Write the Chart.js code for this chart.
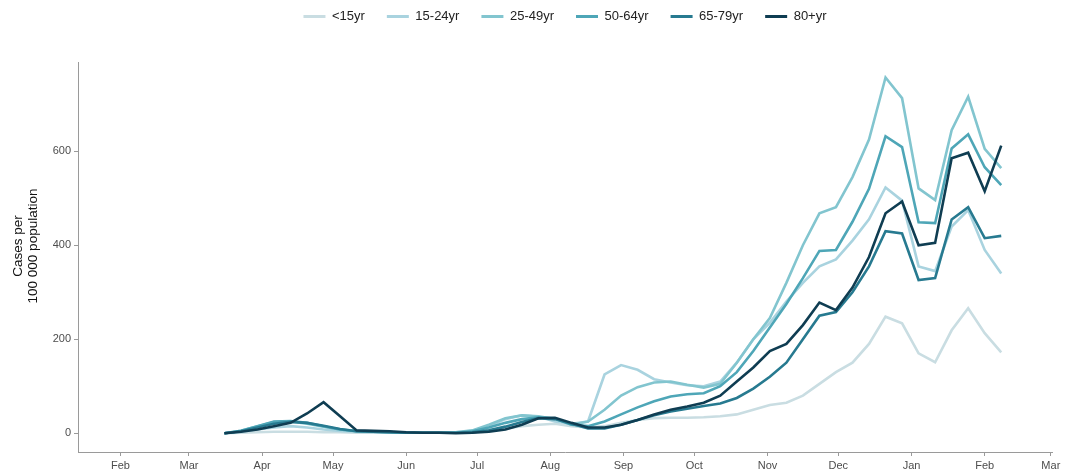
<!DOCTYPE html>
<html>
<head>
<meta charset="utf-8">
<script src="https://cdn.jsdelivr.net/npm/chart.js"></script>
<style>
  html, body { margin: 0; padding: 0; background: #fff; }
  #wrap { width: 1074px; height: 474px; }
</style>
</head>
<body>
<div id="wrap"><canvas id="chart" width="1074" height="474"></canvas></div>
<script>
// weekly reporting dates
const weekDates = [
    '2020-03-16','2020-03-23','2020-03-30','2020-04-06','2020-04-13','2020-04-20','2020-04-27',
    '2020-05-04','2020-05-11','2020-05-18','2020-05-25','2020-06-01','2020-06-08','2020-06-15',
    '2020-06-22','2020-06-29','2020-07-06','2020-07-13','2020-07-20','2020-07-27','2020-08-03',
    '2020-08-10','2020-08-17','2020-08-24','2020-08-31','2020-09-07','2020-09-14','2020-09-21',
    '2020-09-28','2020-10-05','2020-10-12','2020-10-19','2020-10-26','2020-11-02','2020-11-09',
    '2020-11-16','2020-11-23','2020-11-30','2020-12-07','2020-12-14','2020-12-21','2020-12-28',
    '2021-01-04','2021-01-11','2021-01-18','2021-01-25','2021-02-01','2021-02-08'
];

// month ticks on the x axis
const monthTicks = [
    '2020-02-01','2020-03-01','2020-04-01','2020-05-01','2020-06-01','2020-07-01','2020-08-01',
    '2020-09-01','2020-10-01','2020-11-01','2020-12-01','2021-01-01','2021-02-01','2021-03-01'
];
const monthLabels = ['Feb','Mar','Apr','May','Jun','Jul','Aug','Sep','Oct','Nov','Dec','Jan','Feb','Mar'];
const yTicks = [0, 200, 400, 600];
const yTitle = ['Cases per', '100 000 population'];

const ageGroups = ['<15yr', '15-24yr', '25-49yr', '50-64yr', '65-79yr', '80+yr'];

// cases per 100 000 population
const casesU15 = [0,1,2,3,3,3,2,2,1,1,1, 1,1,1,1,2,5,10,15,18, 20,15,12,15,22,28,32,33,33,
    34,36,40,50,60,65,80,105,130, 150,190,248,234,170,151,219,266,213,172];
const cases15 = [0,3,8,12,15,12,8,5,3,2,2, 1,1,1,2,5,15,30,38,35, 25,20,25,125,145,135,115,108,102,
    100,110,150,200,235,280,320,355,370, 410,455,523,495,355,345,440,475,390,340];
const cases25 = [0,5,15,24,25,20,14,8,5,3,2, 1,1,1,2,6,18,32,38,36, 30,18,25,50,80,98,108,110,103,
    97,105,150,200,245,320,400,468,481, 545,625,757,713,521,496,645,716,605,564];
const cases50 = [0,5,15,25,26,22,15,8,4,3,2, 1,1,1,1,4,12,22,30,34, 32,18,15,25,40,55,68,78,83,
    85,100,130,175,225,275,330,388,390, 450,520,632,609,449,447,606,636,566,528];
const cases65 = [0,4,12,20,24,22,16,9,4,3,2, 1,1,1,1,2,6,14,24,32, 30,20,10,10,18,28,38,46,52,
    58,63,75,95,120,150,200,250,258, 300,355,430,425,326,330,455,481,415,420];
const cases80 = [0,3,8,15,22,42,66,36,6,5,4, 2,1,1,0,1,3,8,18,32, 33,22,12,12,18,28,40,50,57,
    65,80,110,140,175,190,230,278,262, 310,375,468,493,400,405,585,597,515,612];

const lineColors = ['#c9dde2', '#a9d3df', '#82c5cf', '#4ea6b7', '#277a90', '#0f3d52'];

const day0 = Date.parse('2020-02-01');
function toDay(s) {
    return (Date.parse(s) - day0) / 86400000;
}

const allSeries = [casesU15, cases15, cases25, cases50, cases65, cases80];
const datasets = allSeries.map((values, i) => ({
    label: ageGroups[i],
    data: values.map((v, k) => ({ x: toDay(weekDates[k]), y: v })),
    borderColor: lineColors[i],
    backgroundColor: lineColors[i],
    borderWidth: 2.6,
    pointRadius: 0,
    tension: 0,
    order: allSeries.length - i   // older groups drawn on top, like ggplot
}));

const axisGrey = '#9a9a9a';
const fontFamily = 'Liberation Sans, Arial, sans-serif';
const tickFont = { family: fontFamily, size: 11 };
const topOffset = -12;
const plotTop = 62;

// legend gets a fixed height so the plot starts where the reference does
const legendHeight = {
    id: 'legendHeight',
    afterInit(chart) {
        const lg = chart.legend;
        const fit = lg.fit;
        lg.fit = function () {
            fit.call(this);
            this.height = plotTop - topOffset;
        };
    }
};

// y axis title, placed a little above the panel middle as in the reference
const yTitlePlugin = {
    id: 'yTitle',
    afterDraw(chart) {
        const ctx = chart.ctx;
        ctx.save();
        ctx.fillStyle = '#111';
        ctx.font = '13.5px ' + fontFamily;
        ctx.textAlign = 'center';
        ctx.textBaseline = 'middle';
        yTitle.forEach((line, i) => {
            ctx.save();
            ctx.translate(18 + i * 15, 246);
            ctx.rotate(-Math.PI / 2);
            ctx.fillText(line, 0, 0);
            ctx.restore();
        });
        ctx.restore();
    }
};

new Chart(document.getElementById('chart'), {
    type: 'line',
    data: { datasets },
    plugins: [legendHeight, yTitlePlugin],
    options: {
        responsive: false,
        animation: false,
        layout: { padding: { top: topOffset, left: 0, right: 0, bottom: 0 } },
        plugins: {
            tooltip: { enabled: false },
            legend: {
                position: 'top',
                align: 'center',
                fullSize: false,
                labels: {
                    boxWidth: 22,
                    boxHeight: 3,
                    padding: 22,
                    color: '#222',
                    font: { family: fontFamily, size: 13 },
                    sort: (a, b) => a.datasetIndex - b.datasetIndex,
                    generateLabels: (chart) => {
                        const items = Chart.defaults.plugins.legend.labels.generateLabels(chart);
                        items.forEach(it => { it.lineWidth = 0; });
                        return items;
                    }
                }
            }
        },
        scales: {
            x: {
                type: 'linear',
                min: -18,
                max: 394.5,
                border: { display: true, color: axisGrey, width: 1 },
                grid: { display: true, drawOnChartArea: false, drawTicks: true, tickLength: 4, color: axisGrey },
                ticks: {
                    autoSkip: false,
                    maxRotation: 0,
                    padding: 3,
                    color: '#4d4d4d',
                    font: tickFont,
                    callback: (v, i) => monthLabels[i]
                },
                afterBuildTicks: (scale) => {
                    scale.ticks = monthTicks.map(s => ({ value: toDay(s) }));
                },
                afterFit: (scale) => {
                    scale.height = 22;
                    scale.paddingLeft = 0;
                    scale.paddingRight = 22;
                }
            },
            y: {
                type: 'linear',
                min: -40,
                max: 790,
                border: { display: true, color: axisGrey, width: 1 },
                grid: { display: true, drawOnChartArea: false, drawTicks: true, tickLength: 4, color: axisGrey },
                ticks: {
                    padding: 3,
                    color: '#4d4d4d',
                    font: tickFont
                },
                afterBuildTicks: (scale) => {
                    scale.ticks = yTicks.map(v => ({ value: v }));
                },
                afterFit: (scale) => {
                    scale.width = 78;
                    scale.paddingTop = 0;
                    scale.paddingBottom = 0;
                }
            }
        }
    }
});
</script>
</body>
</html>
